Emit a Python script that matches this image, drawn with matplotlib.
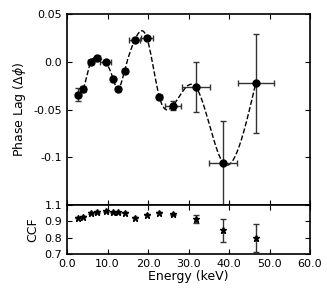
import numpy as np
import matplotlib
matplotlib.use("Agg")
import matplotlib.pyplot as plt

plt.rcParams['axes.unicode_minus'] = False
plt.rcParams['xtick.direction'] = 'in'
plt.rcParams['ytick.direction'] = 'in'
plt.rcParams['font.family'] = 'DejaVu Sans'

# phase lag data
energy = [2.8, 4.0, 5.8, 7.5, 9.5, 11.4, 12.5, 14.2, 16.7, 19.75, 22.8, 26.2, 31.8, 38.6, 46.6]
energy_err = [0.5, 0.5, 0.5, 0.6, 1.3, 0.5, 0.5, 0.6, 1.4, 1.5, 0.7, 2.05, 3.4, 3.45, 4.5]
lag = [-0.0344, -0.0285, -0.0007, 0.0035, -0.0003, -0.018, -0.0285, -0.0094,
       0.0226, 0.0247, -0.0368, -0.0458, -0.0264, -0.106, -0.0226]
lag_err = [0.0066, 0.003, 0.001, 0.001, 0.001, 0.001, 0.001, 0.001,
           0.002, 0.002, 0.002, 0.005, 0.026, 0.044, 0.052]

# cross-correlation coefficient
ccf = [0.923, 0.929, 0.952, 0.958, 0.962, 0.956, 0.956, 0.954,
       0.923, 0.94, 0.954, 0.942, 0.915, 0.844, 0.798]
ccf_err = [0.004, 0.004, 0.004, 0.004, 0.004, 0.004, 0.004, 0.004,
           0.004, 0.004, 0.004, 0.004, 0.026, 0.07, 0.083]


def natural_spline(x, y, xs):
    x = np.asarray(x, float)
    y = np.asarray(y, float)
    n = len(x)
    h = np.diff(x)
    A = np.zeros((n, n))
    b = np.zeros(n)
    A[0, 0] = 1
    A[-1, -1] = 1
    for i in range(1, n - 1):
        A[i, i - 1] = h[i - 1]
        A[i, i] = 2 * (h[i - 1] + h[i])
        A[i, i + 1] = h[i]
        b[i] = 6 * ((y[i + 1] - y[i]) / h[i] - (y[i] - y[i - 1]) / h[i - 1])
    m = np.linalg.solve(A, b)
    idx = np.clip(np.searchsorted(x, xs) - 1, 0, n - 2)
    x0, x1 = x[idx], x[idx + 1]
    hh = x1 - x0
    t0 = x1 - xs
    t1 = xs - x0
    return (m[idx] * t0**3 / (6 * hh) + m[idx + 1] * t1**3 / (6 * hh)
            + (y[idx] / hh - m[idx] * hh / 6) * t0
            + (y[idx + 1] / hh - m[idx + 1] * hh / 6) * t1)


fig = plt.figure(figsize=(3.27, 2.95), dpi=100)
ax1 = fig.add_axes([0.205, 0.305, 0.743, 0.6475])
ax2 = fig.add_axes([0.205, 0.139, 0.743, 0.166], sharex=ax1)

xs = np.linspace(energy[0], energy[-1], 400)
ax1.plot(xs, natural_spline(energy, lag, xs), 'k--', lw=1)
ax1.errorbar(energy, lag, xerr=energy_err, yerr=lag_err, fmt='o', color='k',
             ms=5, ecolor='0.2', elinewidth=1, capsize=2.5)
ax1.set_ylim(-0.15, 0.05)
ax1.set_yticks([-0.1, -0.05, 0.0, 0.05])
ax1.set_yticklabels(['-0.1', '-0.05', '0.0', '0.05'])
ax1.set_ylabel(r'Phase Lag ($\Delta\phi$)', fontsize=9)
ax1.tick_params(labelbottom=False, top=True, right=True, labelsize=8)

ax2.errorbar(energy, ccf, yerr=ccf_err, fmt='*', color='k', ms=5,
             ecolor='0.2', elinewidth=1, capsize=2.5)
ax2.set_xlim(0, 60)
ax2.set_ylim(0.7, 1.0)
ax2.set_yticks([0.7, 0.8, 0.9, 1.0])
ax2.set_yticklabels(['0.7', '0.8', '0.9', '1.1'])
ax2.set_xticks(np.arange(0, 61, 10))
ax2.set_xticklabels(['%.1f' % v for v in np.arange(0, 61, 10)])
ax2.set_ylabel('CCF', fontsize=9)
ax2.set_xlabel('Energy (keV)', fontsize=9, labelpad=1)
ax2.tick_params(top=True, right=True, labelsize=8)

for ax in (ax1, ax2):
    for s in ax.spines.values():
        s.set_linewidth(1.2)

fig.savefig('out.png', dpi=100)
